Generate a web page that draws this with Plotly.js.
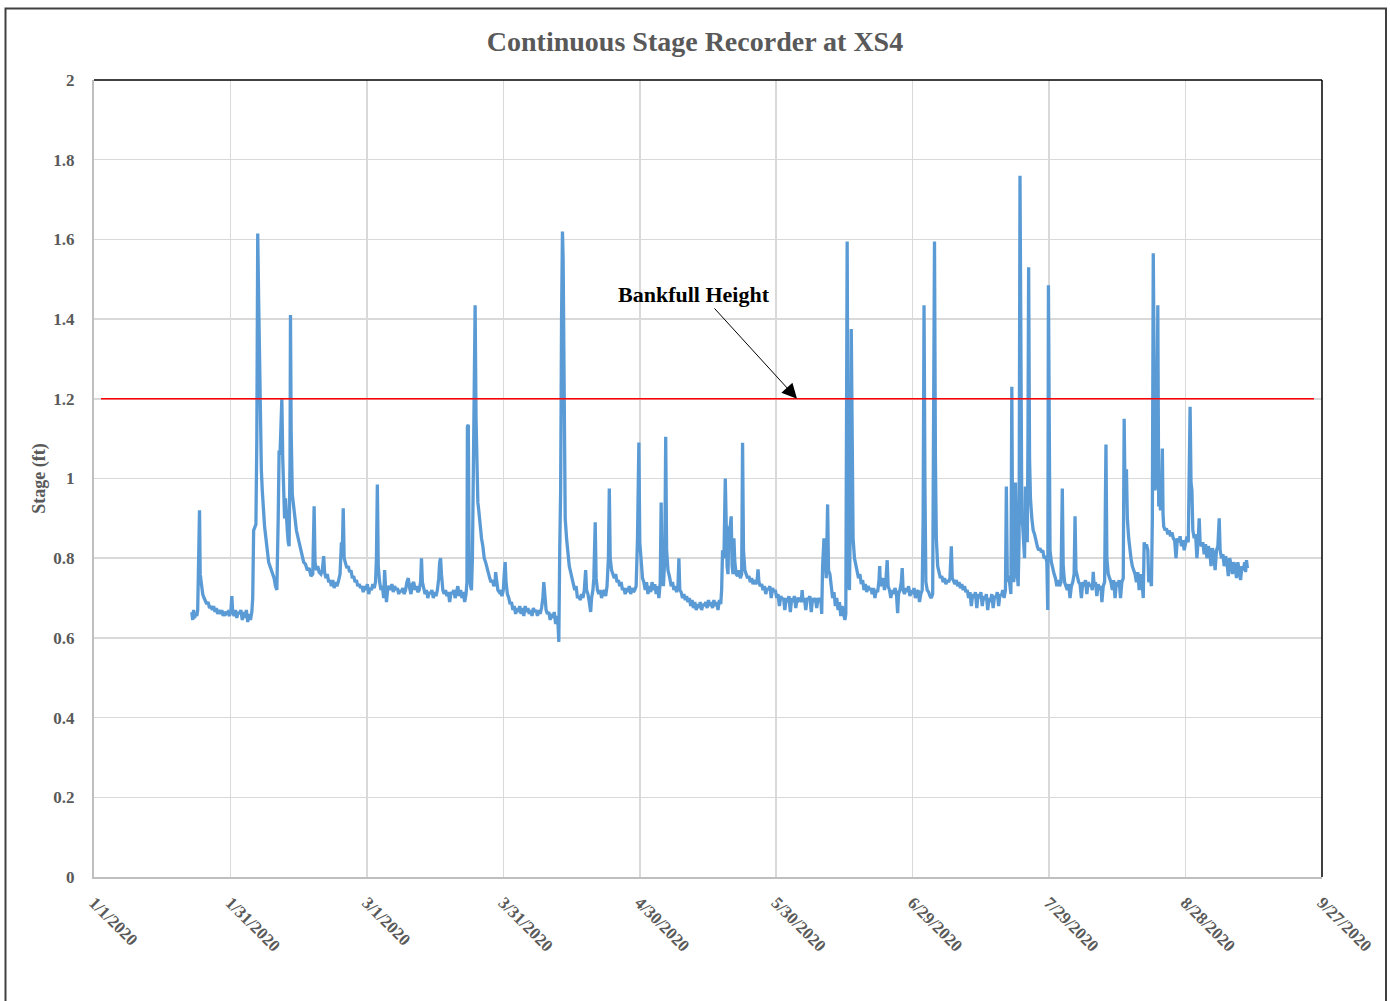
<!DOCTYPE html>
<html>
<head>
<meta charset="utf-8">
<script src="https://cdn.plot.ly/plotly-3.0.1.min.js"></script>
<style>html,body{margin:0;padding:0;background:#fff;}#chart{width:1390px;height:1001px;}</style>
</head>
<body>
<div id="chart"></div>
<script>
// Readings: [day offset from 1/1/2020, stage (ft)]
const readingsJanFeb = [
[21.5,0.665],[21.7,0.645],[21.9,0.67],[22.1,0.65],[22.4,0.66],[22.6,0.655],[22.8,0.67],[23.0,0.77],[23.2,0.92],[23.35,0.76],
[23.6,0.73],[23.9,0.71],[24.2,0.70],[24.5,0.69],[24.8,0.685],[25.1,0.69],[25.4,0.675],[25.7,0.68],[26.0,0.67],[26.3,0.68],
[26.6,0.665],[26.9,0.675],[27.2,0.66],[27.5,0.67],[27.8,0.66],[28.1,0.67],[28.4,0.655],[28.7,0.665],[29.0,0.66],[29.4,0.665],
[29.8,0.655],[30.1,0.67],[30.3,0.705],[30.5,0.665],[30.8,0.655],[31.1,0.67],[31.4,0.65],[31.7,0.665],[32.0,0.66],[32.3,0.67],
[32.6,0.645],[32.9,0.665],[33.2,0.65],[33.5,0.67],[33.8,0.64],[34.1,0.66],[34.4,0.645],[34.7,0.665],[34.9,0.70],[35.1,0.87],
[35.4,0.88],[35.6,0.885],[35.8,1.10],[36.0,1.615],[36.2,1.45],[36.4,1.27],[36.6,1.10],[36.8,1.02],[37.0,0.97],[37.2,0.93],
[37.5,0.88],[37.8,0.85],[38.1,0.81],[38.4,0.79],[38.7,0.78],[39.0,0.77],[39.3,0.76],[39.6,0.75],[39.9,0.73],[40.2,0.72],
[40.5,0.90],[40.7,1.07],[40.9,1.06],[41.1,1.18],[41.3,1.20],[41.5,1.05],[41.7,0.94],[41.9,0.90],[42.1,0.95],[42.3,0.89],
[42.5,0.87],[42.7,0.84],[42.9,0.83],[43.1,1.05],[43.2,1.41],[43.35,1.12],[43.6,0.96],[43.9,0.93],[44.2,0.89],[44.5,0.87],
[44.9,0.85],[45.3,0.83],[45.7,0.81],[46.1,0.79],[46.5,0.785],[46.9,0.77],[47.3,0.775],[47.7,0.755],[48.1,0.76],[48.4,0.93],
[48.6,0.79],[48.9,0.77],[49.2,0.78],[49.5,0.765],[49.9,0.76],[50.2,0.77],[50.5,0.805],[50.7,0.765],[51.0,0.75],[51.3,0.76],
[51.6,0.74],[51.9,0.745],[52.2,0.73],[52.5,0.745],[52.8,0.725],[53.1,0.74],[53.4,0.73],[53.7,0.74],[54.1,0.76],[54.4,0.84],
[54.6,0.82],[54.8,0.925],[55.0,0.80],[55.3,0.785],[55.6,0.775],[55.9,0.78],[56.2,0.765],[56.5,0.77],[56.8,0.75],[57.1,0.755],
[57.4,0.74],[57.7,0.745],[58.0,0.73],[58.3,0.735],[58.6,0.725],[58.9,0.73],[59.2,0.715],[59.5,0.73],[59.8,0.72]
];
const readingsMar = [
[60.1,0.735],[60.4,0.71],[60.7,0.725],[61.0,0.72],[61.3,0.735],[61.6,0.725],[61.9,0.74],[62.1,0.80],[62.3,0.985],[62.5,0.78],
[62.8,0.74],[63.1,0.72],[63.4,0.73],[63.7,0.70],[63.9,0.77],[64.1,0.72],[64.3,0.69],[64.6,0.725],[64.9,0.73],[65.2,0.72],
[65.5,0.735],[65.8,0.715],[66.1,0.73],[66.4,0.72],[66.7,0.725],[67.0,0.71],[67.3,0.72],[67.6,0.715],[67.9,0.725],[68.2,0.71],
[68.5,0.72],[68.8,0.74],[69.1,0.75],[69.4,0.725],[69.7,0.71],[70.0,0.735],[70.3,0.74],[70.6,0.72],[70.9,0.73],[71.2,0.715],
[71.5,0.72],[71.8,0.74],[72.0,0.80],[72.2,0.74],[72.5,0.72],[72.8,0.71],[73.1,0.72],[73.4,0.70],[73.7,0.715],[74.0,0.71],
[74.3,0.72],[74.6,0.70],[74.9,0.715],[75.2,0.705],[75.5,0.72],[75.8,0.75],[76.0,0.79],[76.2,0.80],[76.4,0.76],[76.7,0.72],
[77.0,0.71],[77.3,0.72],[77.6,0.705],[77.9,0.715],[78.2,0.69],[78.5,0.715],[78.8,0.71],[79.1,0.72],[79.4,0.70],[79.7,0.715],
[80.0,0.73],[80.3,0.705],[80.6,0.72],[80.9,0.70],[81.2,0.715],[81.5,0.69],[81.8,0.71],[82.0,0.74],[82.1,1.13],[82.3,1.135],
[82.5,0.76],[82.8,0.73],[83.0,0.72],[83.2,0.80],[83.4,1.05],[83.6,1.10],[83.8,1.435],[84.0,1.15],[84.2,1.03],[84.4,0.94],
[84.6,0.92],[84.9,0.88],[85.2,0.85],[85.5,0.83],[85.8,0.80],[86.1,0.79],[86.4,0.775],[86.7,0.76],[87.0,0.75],[87.3,0.74],
[87.6,0.745],[87.9,0.73],[88.2,0.74],[88.3,0.765],[88.5,0.74],[88.8,0.72],[89.1,0.715],[89.4,0.72],[89.7,0.705],[90.0,0.72]
];
const readingsApr = [
[90.2,0.76],[90.4,0.79],[90.6,0.74],[90.9,0.71],[91.2,0.70],[91.5,0.685],[91.8,0.69],[92.1,0.67],[92.4,0.68],[92.7,0.66],
[93.0,0.675],[93.3,0.665],[93.6,0.68],[93.9,0.66],[94.2,0.675],[94.5,0.655],[94.8,0.68],[95.1,0.665],[95.4,0.675],[95.7,0.66],
[96.0,0.67],[96.3,0.655],[96.6,0.675],[96.9,0.665],[97.2,0.67],[97.5,0.655],[97.8,0.67],[98.1,0.66],[98.4,0.675],[98.7,0.70],
[98.9,0.74],[99.1,0.70],[99.4,0.67],[99.7,0.66],[100.0,0.665],[100.3,0.645],[100.6,0.66],[100.9,0.65],[101.2,0.665],[101.5,0.635],
[101.8,0.655],[102.0,0.64],[102.2,0.59],[102.4,0.82],[102.6,0.97],[102.8,1.40],[103.0,1.62],[103.15,1.55],[103.3,1.20],[103.45,0.95],
[103.6,0.90],[103.9,0.85],[104.2,0.81],[104.5,0.78],[104.8,0.765],[105.1,0.75],[105.4,0.735],[105.7,0.72],[106.0,0.73],[106.3,0.70],
[106.6,0.705],[106.9,0.695],[107.2,0.71],[107.5,0.70],[107.8,0.72],[108.1,0.77],[108.3,0.72],[108.6,0.71],[108.9,0.69],[109.2,0.665],
[109.4,0.70],[109.7,0.72],[109.9,0.75],[110.1,0.85],[110.2,0.89],[110.4,0.75],[110.7,0.72],[111.0,0.71],[111.3,0.72],[111.6,0.70],
[111.9,0.715],[112.2,0.72],[112.5,0.705],[112.8,0.73],[113.1,0.80],[113.3,0.975],[113.5,0.80],[113.8,0.77],[114.1,0.76],[114.4,0.75],
[114.7,0.76],[115.0,0.74],[115.3,0.745],[115.6,0.73],[115.9,0.74],[116.2,0.72],[116.5,0.725],[116.8,0.71],[117.1,0.725],[117.4,0.715],
[117.7,0.73],[118.0,0.71],[118.3,0.725],[118.6,0.715],[118.9,0.72],[119.2,0.73],[119.5,0.85],[119.8,1.09]
];
const readingsMay = [
[120.0,0.84],[120.3,0.78],[120.6,0.75],[120.9,0.74],[121.2,0.72],[121.5,0.74],[121.8,0.71],[122.1,0.73],[122.4,0.715],[122.7,0.74],
[123.0,0.72],[123.3,0.735],[123.6,0.71],[123.9,0.73],[124.2,0.70],[124.5,0.74],[124.7,0.94],[124.9,0.76],[125.2,0.73],[125.5,0.80],
[125.7,1.105],[125.9,0.82],[126.2,0.77],[126.6,0.75],[126.9,0.73],[127.2,0.74],[127.5,0.72],[127.8,0.73],[128.1,0.715],[128.4,0.73],
[128.6,0.80],[128.8,0.72],[129.1,0.715],[129.4,0.70],[129.7,0.71],[130.0,0.695],[130.3,0.705],[130.6,0.69],[130.9,0.70],[131.2,0.68],
[131.5,0.695],[131.8,0.675],[132.1,0.69],[132.4,0.67],[132.7,0.685],[133.0,0.675],[133.3,0.69],[133.6,0.67],[133.9,0.685],[134.2,0.68],
[134.5,0.69],[134.8,0.675],[135.1,0.695],[135.4,0.68],[135.7,0.69],[136.0,0.675],[136.3,0.695],[136.6,0.68],[136.9,0.69],[137.2,0.67],
[137.5,0.695],[137.8,0.685],[138.0,0.72],[138.2,0.82],[138.5,0.80],[138.8,1.00],[139.0,0.82],[139.2,0.78],[139.4,0.76],[139.6,0.88],
[139.8,0.87],[140.1,0.905],[140.3,0.78],[140.5,0.76],[140.7,0.85],[140.9,0.79],[141.2,0.76],[141.5,0.755],[141.8,0.77],[142.1,0.75],
[142.4,0.76],[142.6,1.09],[142.8,0.82],[143.1,0.77],[143.4,0.76],[143.7,0.75],[144.0,0.755],[144.3,0.74],[144.6,0.75],[144.9,0.735],
[145.2,0.745],[145.5,0.735],[145.8,0.745],[146.0,0.772],[146.2,0.74],[146.5,0.73],[146.8,0.735],[147.1,0.72],[147.4,0.73],[147.7,0.71],
[148.0,0.725],[148.3,0.72],[148.6,0.73],[148.9,0.70],[149.2,0.725],[149.5,0.715],[149.8,0.72]
];
const readingsJun = [
[150.1,0.70],[150.4,0.71],[150.7,0.68],[151.0,0.705],[151.3,0.695],[151.6,0.70],[151.9,0.67],[152.2,0.70],[152.5,0.69],[152.8,0.705],
[153.1,0.665],[153.4,0.70],[153.7,0.69],[154.0,0.705],[154.3,0.675],[154.6,0.70],[154.9,0.695],[155.2,0.70],[155.5,0.69],[155.7,0.72],
[155.9,0.69],[156.2,0.70],[156.5,0.67],[156.8,0.70],[157.1,0.695],[157.4,0.705],[157.7,0.665],[158.0,0.70],[158.3,0.69],[158.6,0.70],
[158.9,0.675],[159.2,0.70],[159.5,0.69],[159.8,0.70],[160.0,0.66],[160.2,0.78],[160.5,0.85],[160.8,0.79],[161.0,0.75],[161.3,0.935],
[161.5,0.77],[161.8,0.76],[162.1,0.72],[162.4,0.70],[162.7,0.715],[163.0,0.68],[163.3,0.70],[163.6,0.67],[163.9,0.69],[164.2,0.655],
[164.5,0.68],[164.8,0.66],[165.1,0.645],[165.3,0.66],[165.45,1.30],[165.6,1.595],[165.75,1.10],[165.9,0.74],[166.1,0.72],[166.3,0.90],
[166.5,1.375],[166.7,1.05],[166.9,0.85],[167.2,0.80],[167.5,0.78],[167.8,0.77],[168.1,0.75],[168.4,0.76],[168.7,0.735],[169.0,0.745],
[169.3,0.72],[169.6,0.735],[169.9,0.715],[170.2,0.73],[170.5,0.72],[170.8,0.725],[171.1,0.71],[171.4,0.725],[171.7,0.70],[172.0,0.72],
[172.3,0.715],[172.6,0.745],[172.75,0.78],[172.9,0.73],[173.2,0.74],[173.5,0.75],[173.8,0.72],[174.1,0.74],[174.4,0.795],[174.6,0.73],
[174.9,0.72],[175.2,0.70],[175.5,0.72],[175.8,0.71],[176.1,0.725],[176.4,0.715],[176.7,0.662],[176.9,0.71],[177.2,0.72],[177.5,0.74],
[177.7,0.775],[177.9,0.72],[178.2,0.71],[178.5,0.725],[178.8,0.715],[179.1,0.73],[179.4,0.705],[179.7,0.72]
];
const readingsJul = [
[180.0,0.71],[180.3,0.725],[180.6,0.70],[180.9,0.715],[181.2,0.72],[181.5,0.69],[181.8,0.71],[182.1,0.72],[182.3,0.90],[182.5,1.435],
[182.7,0.98],[182.9,0.74],[183.2,0.72],[183.5,0.715],[183.8,0.705],[184.1,0.70],[184.4,0.71],[184.6,1.10],[184.8,1.595],[185.0,1.05],
[185.2,0.85],[185.5,0.78],[185.8,0.76],[186.1,0.75],[186.4,0.755],[186.7,0.74],[187.0,0.75],[187.3,0.735],[187.6,0.745],[187.9,0.74],
[188.2,0.75],[188.5,0.83],[188.7,0.75],[189.0,0.74],[189.3,0.735],[189.6,0.745],[189.9,0.73],[190.2,0.74],[190.5,0.725],[190.8,0.735],
[191.1,0.72],[191.4,0.73],[191.7,0.715],[192.0,0.72],[192.3,0.70],[192.6,0.715],[192.9,0.68],[193.2,0.71],[193.5,0.70],[193.8,0.715],
[194.1,0.675],[194.4,0.71],[194.7,0.70],[195.0,0.715],[195.3,0.68],[195.6,0.705],[195.9,0.695],[196.2,0.71],[196.5,0.67],[196.8,0.70],
[197.1,0.69],[197.4,0.71],[197.7,0.675],[198.0,0.705],[198.3,0.70],[198.6,0.715],[198.9,0.68],[199.2,0.71],[199.5,0.705],[199.8,0.72],
[200.1,0.70],[200.4,0.72],[200.6,0.98],[200.8,0.76],[201.0,0.745],[201.3,0.74],[201.6,0.71],[201.8,1.23],[202.0,0.78],[202.2,0.74],
[202.4,0.76],[202.6,0.99],[202.8,0.80],[203.0,0.76],[203.2,0.73],[203.4,0.85],[203.6,1.76],[203.8,1.10],[204.0,0.90],[204.2,0.88],
[204.4,0.83],[204.6,0.80],[204.8,0.98],[205.0,0.88],[205.2,0.84],[205.35,1.10],[205.5,1.53],[205.7,1.05],[205.9,0.95],[206.2,0.90],
[206.5,0.87],[206.8,0.86],[207.1,0.84],[207.4,0.83],[207.7,0.82],[208.0,0.825],[208.3,0.815],[208.6,0.82],[208.9,0.80],[209.2,0.805],
[209.5,0.79],[209.7,0.67],[209.85,1.485]
];
const readingsAugSep = [
[210.0,1.00],[210.2,0.82],[210.5,0.79],[210.8,0.77],[211.1,0.76],[211.4,0.75],[211.7,0.73],[212.0,0.745],[212.3,0.73],[212.6,0.74],
[212.9,0.975],[213.1,0.78],[213.4,0.74],[213.7,0.73],[214.0,0.72],[214.3,0.735],[214.6,0.70],[214.9,0.73],[215.2,0.74],[215.5,0.76],
[215.7,0.905],[215.9,0.77],[216.2,0.75],[216.5,0.74],[216.8,0.735],[217.1,0.70],[217.4,0.74],[217.7,0.73],[218.0,0.745],[218.3,0.71],
[218.6,0.74],[218.9,0.73],[219.2,0.735],[219.5,0.72],[219.7,0.766],[219.9,0.73],[220.2,0.74],[220.5,0.705],[220.8,0.735],[221.1,0.72],
[221.4,0.73],[221.6,0.69],[221.9,0.73],[222.2,0.74],[222.5,1.085],[222.7,0.80],[223.0,0.76],[223.3,0.75],[223.6,0.74],[223.9,0.72],
[224.2,0.745],[224.5,0.70],[224.8,0.74],[225.1,0.73],[225.4,0.745],[225.7,0.70],[226.0,0.74],[226.3,0.75],[226.5,1.15],[226.7,0.95],
[226.9,0.98],[227.0,1.023],[227.2,0.90],[227.5,0.85],[227.7,0.82],[228.0,0.80],[228.3,0.78],[228.6,0.77],[228.9,0.76],[229.2,0.74],
[229.5,0.765],[229.8,0.72],[230.1,0.76],[230.4,0.745],[230.7,0.70],[230.9,0.84],[231.1,0.83],[231.4,0.835],[231.7,0.82],[231.9,0.74],
[232.2,0.75],[232.5,0.73],[232.7,0.90],[232.9,1.565],[233.1,1.20],[233.3,0.97],[233.5,1.00],[233.7,1.10],[233.9,1.435],[234.1,0.93],
[234.3,0.95],[234.5,0.92],[234.7,0.95],[234.9,1.075],[235.05,0.91],[235.2,0.88],[235.5,0.87],[235.8,0.875],[236.1,0.86],[236.4,0.87],
[236.7,0.855],[237.0,0.865],[237.3,0.85],[237.6,0.845],[237.9,0.80],[238.2,0.85],[238.5,0.84],[238.8,0.855],[239.1,0.83],[239.4,0.845],
[239.7,0.82],[240.0,0.84],[240.3,0.854],[240.6,0.84],[240.8,0.96],[241.0,1.18],[241.2,0.99],[241.4,0.97],[241.6,0.87],[241.9,0.85],
[242.2,0.86],[242.5,0.80],[242.8,0.85],[243.0,0.90],[243.2,0.84],[243.5,0.83],[243.8,0.84],[244.1,0.81],[244.4,0.835],[244.7,0.80],
[245.0,0.83],[245.3,0.82],[245.6,0.78],[245.9,0.825],[246.2,0.81],[246.5,0.77],[246.8,0.82],[247.1,0.83],[247.4,0.90],[247.6,0.82],
[247.9,0.80],[248.2,0.81],[248.5,0.78],[248.8,0.805],[249.1,0.79],[249.4,0.755],[249.7,0.80],[250.0,0.785],[250.3,0.76],[250.6,0.79],
[250.9,0.78],[251.2,0.75],[251.5,0.79],[251.8,0.77],[252.1,0.745],[252.4,0.78],[252.7,0.77],[253.0,0.79],[253.2,0.765],[253.4,0.795],
[253.6,0.775]
];
const bankfullHeight = 1.2;
const xTickDates = ['2020-01-01','2020-01-31','2020-03-01','2020-03-31','2020-04-30','2020-05-30','2020-06-29','2020-07-29','2020-08-28','2020-09-27'];
const xTickLabels = ['1/1/2020','1/31/2020','3/1/2020','3/31/2020','4/30/2020','5/30/2020','6/29/2020','7/29/2020','8/28/2020','9/27/2020'];
const yTickVals = [0,0.2,0.4,0.6,0.8,1,1.2,1.4,1.6,1.8,2];
const yTickLabels = ['0','0.2','0.4','0.6','0.8','1','1.2','1.4','1.6','1.8','2'];

const allReadings = [].concat(readingsJanFeb, readingsMar, readingsApr, readingsMay, readingsJun, readingsJul, readingsAugSep);
const base = Date.UTC(2020,0,1);
function toDate(d){
  const t = new Date(base + d*86400000);
  return t.toISOString().replace('T',' ').slice(0,19);
}
const xs = allReadings.map(r => toDate(r[0]));
const ys = allReadings.map(r => r[1]);

const FONT = "'Liberation Serif', 'Times New Roman', serif";
const GREY = '#595959';

const trace = {
  x: xs, y: ys, type: 'scatter', mode: 'lines',
  line: {color: '#5b9bd5', width: 3.3},
  hoverinfo: 'x+y', showlegend: false
};

const layout = {
  width: 1390, height: 1001,
  margin: {l: 94, r: 68, t: 80, b: 124},
  paper_bgcolor: '#ffffff', plot_bgcolor: '#ffffff',
  showlegend: false,
  title: {
    text: '<b>Continuous Stage Recorder at XS4</b>',
    font: {family: FONT, size: 28, color: GREY},
    x: 0.5, xref: 'container', xanchor: 'center',
    y: 1 - 41/1001, yref: 'container', yanchor: 'middle'
  },
  xaxis: {
    type: 'date',
    range: ['2020-01-01','2020-09-27'],
    tickvals: xTickDates, ticktext: xTickLabels,
    tickangle: 45,
    tickfont: {family: FONT, size: 17, color: GREY, weight: 700},
    showgrid: true, gridcolor: '#d9d9d9', gridwidth: 1.5,
    showline: true, linecolor: '#bfbfbf', linewidth: 2,
    zeroline: false, ticks: '', ticklabelstandoff: 7
  },
  yaxis: {
    range: [0, 2],
    tickvals: yTickVals, ticktext: yTickLabels,
    tickfont: {family: FONT, size: 17, color: GREY, weight: 700},
    showgrid: true, gridcolor: '#d9d9d9', gridwidth: 1.5,
    showline: true, linecolor: '#bfbfbf', linewidth: 2,
    zeroline: false, ticks: '', ticklabelstandoff: 14,
    title: {text: '<b>Stage (ft)</b>', font: {family: FONT, size: 18, color: GREY}, standoff: 3}
  },
  shapes: [
    {type: 'line', xref: 'paper', yref: 'y', x0: 7/1228, x1: 1220/1228, y0: bankfullHeight, y1: bankfullHeight,
     line: {color: '#ff0000', width: 1.5}},
    {type: 'line', xref: 'paper', yref: 'paper', x0: 0, x1: 1, y0: 1, y1: 1, line: {color: '#000000', width: 1.5}},
    {type: 'line', xref: 'paper', yref: 'paper', x0: 1, x1: 1, y0: 0, y1: 1, line: {color: '#000000', width: 1.5}},
    {type: 'rect', xref: 'paper', yref: 'paper', x0: (5.5-94)/1228, x1: (1386-94)/1228, y0: (877-1015)/797, y1: (877-8.5)/797,
     line: {color: '#404040', width: 2}, fillcolor: 'rgba(0,0,0,0)'}
  ],
  annotations: [
    {xref: 'paper', yref: 'y', x: (694-94)/1228, y: (877-294)/398.5, text: '<b>Bankfull Height</b>', showarrow: false,
     font: {family: FONT, size: 22, color: '#000000'}, xanchor: 'center', yanchor: 'middle'},
    {xref: 'paper', yref: 'y', x: (797-94)/1228, y: bankfullHeight, text: ' ', showarrow: true,
     ax: 713-797, ay: 306-398, arrowhead: 2, arrowsize: 3, arrowwidth: 1, arrowcolor: '#000000',
     font: {size: 1}}
  ]
};

Plotly.newPlot('chart', [trace], layout, {displayModeBar: false, staticPlot: true});
</script>
</body>
</html>
